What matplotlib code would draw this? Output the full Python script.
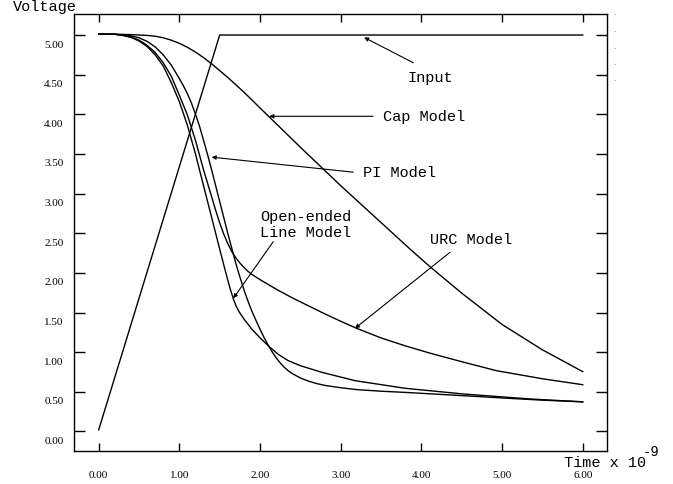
import matplotlib
matplotlib.use("Agg")
import matplotlib.pyplot as plt
from matplotlib.transforms import ScaledTranslation

# ---- data (time in ns, voltage in V) ----
input_t = [0.0, 1.5, 6.0]
input_v = [0.02, 5.0, 5.0]

cap_t = [0.0, 0.2, 0.4, 0.6, 0.7, 0.8, 0.9, 1.0, 1.1, 1.2, 1.3, 1.42, 1.6, 1.8, 2.0, 2.5, 3.0, 3.5,
         3.86, 4.11, 4.5, 5.0, 5.5, 6.0]
cap_v = [5.01, 5.01, 5.005, 4.995, 4.985, 4.965, 4.935, 4.895, 4.845, 4.785, 4.715, 4.62, 4.465, 4.28,
         4.08, 3.585, 3.10, 2.635, 2.30, 2.075, 1.745, 1.35, 1.03, 0.755]

pi_t = [0.0, 0.2, 0.3, 0.4, 0.5, 0.6, 0.7, 0.8, 0.9, 1.0, 1.05, 1.1, 1.15, 1.2, 1.25, 1.3, 1.35, 1.4,
        1.45, 1.5, 1.55, 1.6, 1.65, 1.7, 1.75, 1.8, 1.85, 1.9, 1.95, 2.0, 2.05, 2.1, 2.15, 2.2, 2.25,
        2.3, 2.35, 2.4, 2.5, 2.6, 2.7, 2.8, 3.0, 3.2, 3.5, 3.8, 4.2, 4.6, 5.0, 5.5, 6.0]
pi_v = [5.01, 5.01, 5.0, 4.99, 4.965, 4.92, 4.85, 4.75, 4.62, 4.45, 4.36, 4.26, 4.14, 4.00, 3.85,
        3.67, 3.49, 3.30, 3.10, 2.90, 2.70, 2.50, 2.31, 2.12, 1.95, 1.79, 1.645, 1.515, 1.40, 1.29,
        1.185, 1.09, 1.005, 0.93, 0.865, 0.81, 0.765, 0.73, 0.675, 0.635, 0.605, 0.582, 0.552, 0.528,
        0.508, 0.493, 0.47, 0.447, 0.423, 0.395, 0.374]

urc_t = [0.0, 0.2, 0.3, 0.4, 0.5, 0.6, 0.7, 0.8, 0.9, 1.0, 1.1, 1.2, 1.297, 1.35, 1.4, 1.45, 1.5,
         1.55, 1.6, 1.65, 1.7, 1.75, 1.8, 1.85, 1.9, 2.0, 2.1, 2.2, 2.4, 2.6, 2.8, 3.0, 3.2, 3.5,
         3.8, 4.1, 4.5, 4.93, 5.5, 6.0]
urc_v = [5.01, 5.01, 4.995, 4.975, 4.935, 4.87, 4.78, 4.65, 4.48, 4.24, 3.99, 3.67, 3.31, 3.13,
         2.96, 2.79, 2.63, 2.49, 2.37, 2.27, 2.19, 2.125, 2.07, 2.02, 1.98, 1.915, 1.855, 1.795,
         1.685, 1.585, 1.485, 1.39, 1.30, 1.18, 1.08, 0.99, 0.88, 0.767, 0.665, 0.59]

oe_t = [0.0, 0.2, 0.3, 0.4, 0.5, 0.6, 0.7, 0.8, 0.9, 1.0, 1.1, 1.2, 1.247, 1.4, 1.5, 1.566, 1.6, 1.63,
        1.67, 1.7, 1.74, 1.78, 1.814, 1.9, 2.0, 2.123, 2.23, 2.35, 2.5, 2.764, 3.177, 3.797, 4.52,
        5.35, 6.0]
oe_v = [5.01, 5.01, 4.995, 4.97, 4.925, 4.855, 4.75, 4.61, 4.40, 4.16, 3.86, 3.50, 3.31, 2.70,
        2.30, 2.04, 1.91, 1.80, 1.67, 1.59, 1.51, 1.45, 1.40, 1.29, 1.18, 1.062, 0.97, 0.893, 0.83,
        0.747, 0.641, 0.545, 0.473, 0.41, 0.374]

x_ticks = [0, 1, 2, 3, 4, 5, 6]
x_ticklabels = ["0.00", "1.00", "2.00", "3.00", "4.00", "5.00", "6.00"]
y_ticks = [0.0, 0.5, 1.0, 1.5, 2.0, 2.5, 3.0, 3.5, 4.0, 4.5, 5.0]
y_ticklabels = ["0.00", "0.50", "1.00", "1.50", "2.00", "2.50", "3.00", "3.50", "4.00", "4.50", "5.00"]

W, H = 673, 485
fig = plt.figure(figsize=(W / 100, H / 100), dpi=100)
ax = fig.add_axes([74 / W, 1 - 452 / H, (607 - 74) / W, (452 - 15) / H])

lw = 1.0
for t, v in [(input_t, input_v), (cap_t, cap_v), (pi_t, pi_v), (urc_t, urc_v), (oe_t, oe_v)]:
    ax.plot(t, v, color="black", lw=lw, solid_joinstyle="round")

ax.set_xlim(-0.306, 6.301)
ax.set_ylim(-0.246, 5.265)

for s in ax.spines.values():
    s.set_linewidth(1.0)

ax.set_xticks(x_ticks)
ax.set_xticklabels(x_ticklabels)
ax.set_yticks(y_ticks)
ax.set_yticklabels(y_ticklabels)
ax.tick_params(axis="x", direction="in", length=6, width=1.0, top=True, bottom=True, pad=13.5,
               labelsize=8)
ax.tick_params(axis="y", direction="in", length=8, width=1.0, left=True, right=True, pad=7.5,
               labelsize=8)
for lab in ax.get_xticklabels() + ax.get_yticklabels():
    lab.set_fontfamily("Liberation Serif")
off = ScaledTranslation(0, -8 / 100, fig.dpi_scale_trans)
for lab in ax.get_yticklabels():
    lab.set_transform(lab.get_transform() + off)

mono = "Liberation Mono"
fs = 11

# annotations
ax.text(3.825, 4.424, "Input", family=mono, fontsize=fs, va="baseline", ha="left")
ax.text(3.528, 3.928, "Cap Model", family=mono, fontsize=fs, va="baseline", ha="left")
ax.text(3.28, 3.226, "PI Model", family=mono, fontsize=fs, va="baseline", ha="left")
ax.text(4.107, 2.381, "URC Model", family=mono, fontsize=fs, va="baseline", ha="left")
ax.text(2.0, 2.667, "Open-ended", family=mono, fontsize=fs, va="baseline", ha="left")
ax.text(2.0, 2.47, "Line Model", family=mono, fontsize=fs, va="baseline", ha="left")

ap = dict(arrowstyle="-|>", mutation_scale=6, lw=0.8, color="black", shrinkA=0, shrinkB=0)
ax.annotate("", xy=(3.29, 4.97), xytext=(3.90, 4.65), arrowprops=ap)
ax.annotate("", xy=(2.115, 3.975), xytext=(3.40, 3.975), arrowprops=ap)
ax.annotate("", xy=(1.40, 3.46), xytext=(3.156, 3.27), arrowprops=ap)
ax.annotate("", xy=(1.669, 1.68), xytext=(2.164, 2.394), arrowprops=ap)
ax.annotate("", xy=(3.177, 1.30), xytext=(4.355, 2.26), arrowprops=ap)

# axis titles
fig.text(13.3 / W, 1 - 11.5 / H, "Voltage", family=mono, fontsize=fs, va="baseline", ha="left")
fig.text(564.3 / W, 1 - 467.5 / H, "Time x 10", family=mono, fontsize=fs, va="baseline", ha="left")
fig.text(643 / W, 1 - 456.5 / H, "-9", family=mono, fontsize=10, va="baseline", ha="left")

# small stray dots at right edge
for yy in [13, 30, 47, 63, 79]:
    fig.text(613 / W, 1 - yy / H, ".", fontsize=5, color="#555555", va="center", ha="left")

fig.savefig("out.png", dpi=100)
